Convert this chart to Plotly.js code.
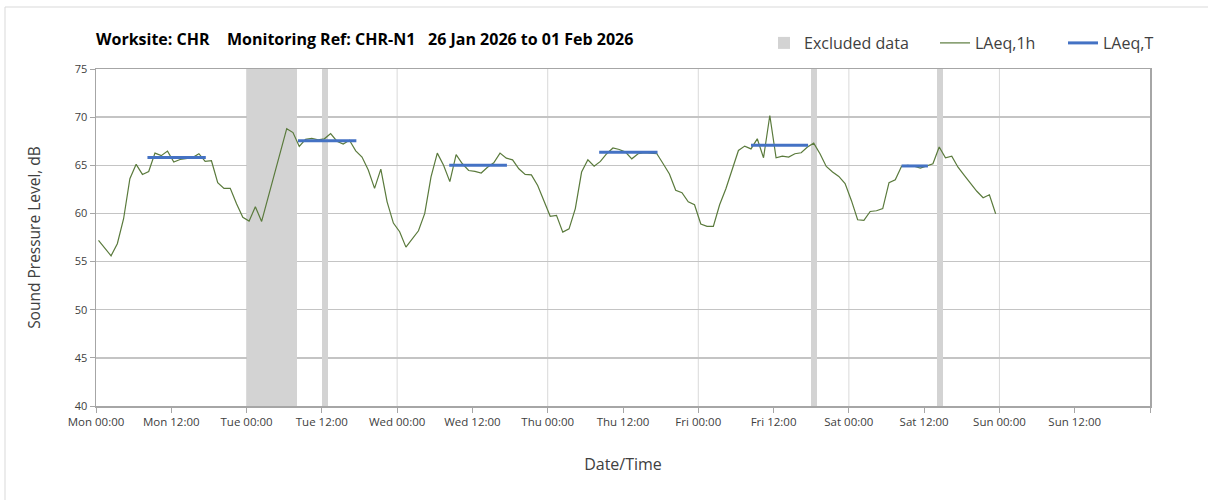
<!DOCTYPE html>
<html><head><meta charset="utf-8">
<script src="https://cdn.plot.ly/plotly-3.0.1.min.js"></script>
<style>html,body{margin:0;padding:0;background:#fff}#chart{width:1208px;height:500px}</style>
</head><body><div id="chart"></div>
<script>
// Hourly LAeq,1h values (dB), first value = Mon 00:00 hour
const laeq1h = [
  57.2, 56.4, 55.6, 56.85, 59.45, 63.6, 65.1, 64.05, 64.35, 66.26, 66.0, 66.47,
  65.33, 65.6, 65.7, 65.8, 66.2, 65.4, 65.47, 63.2, 62.6, 62.6, 61.0, 59.6,
  59.2, 60.7, 59.17, 61.6, 64.2, 66.4, 68.8, 68.4, 66.95, 67.7, 67.8, 67.65,
  67.75, 68.3, 67.5, 67.2, 67.6, 66.5, 65.85, 64.5, 62.6, 64.6, 61.2, 59.0,
  58.1, 56.5, 57.4, 58.2, 60.0, 63.8, 66.26, 65.0, 63.3, 66.1, 65.16, 64.46,
  64.36, 64.2, 64.8, 65.26, 66.26, 65.74, 65.57, 64.64, 64.05, 64.0, 62.9, 61.35,
  59.7, 59.8, 58.06, 58.4, 60.5, 64.3, 65.57, 64.9, 65.4, 66.2, 66.8, 66.64,
  66.37, 65.67, 66.2, 66.3, 66.26, 66.2, 65.16, 64.1, 62.4, 62.15, 61.2, 60.9,
  58.9, 58.65, 58.65, 60.9, 62.56, 64.64, 66.54, 66.99, 66.7, 67.75, 65.78, 70.17,
  65.78, 65.95, 65.85, 66.2, 66.3, 66.9, 67.3, 66.2, 64.88, 64.3, 63.84, 63.1,
  61.35, 59.34, 59.27, 60.2, 60.28, 60.5, 63.2, 63.5, 64.9, 65.0, 64.9, 64.7,
  64.9, 65.16, 66.9, 65.78, 65.95, 64.8, 63.95, 63.1, 62.3, 61.63, 61.94, 59.97
];
// LAeq,T periods (hours from Mon 00:00) and values
const periodStart = [8.2, 32.2, 56.3, 80.2, 104.4, 128.4];
const periodEnd   = [17.5, 41.5, 65.5, 89.5, 113.5, 132.6];
const laeqT       = [65.8, 67.55, 65.0, 66.35, 67.07, 64.93];
// Excluded data periods (hours from Mon 00:00)
const excludedStart = [24, 36, 114, 134];
const excludedEnd   = [32, 37, 115, 135];
// Axis ticks
const tickHours  = [0, 12, 24, 36, 48, 60, 72, 84, 96, 108, 120, 132, 144, 156, 168];
const tickLabels = ['Mon 00:00','Mon 12:00','Tue 00:00','Tue 12:00','Wed 00:00','Wed 12:00',
                    'Thu 00:00','Thu 12:00','Fri 00:00','Fri 12:00','Sat 00:00','Sat 12:00',
                    'Sun 00:00','Sun 12:00',''];
const dayHours = [24, 48, 72, 96, 120, 144];
const yTicks = [40, 45, 50, 55, 60, 65, 70, 75];

const FONT = 'Open Sans, Lato, sans-serif';
const hourOffset = 0.4;

const lineX = laeq1h.map((v, i) => i + hourOffset);

const tX = [], tY = [];
periodStart.forEach((s, i) => { tX.push(s, periodEnd[i], null); tY.push(laeqT[i], laeqT[i], null); });

const traces = [
  {
    type: 'bar', name: 'Excluded data', legend: 'legend',
    x: excludedStart.map((s, i) => (s + excludedEnd[i]) / 2),
    width: excludedStart.map((s, i) => excludedEnd[i] - s),
    y: excludedStart.map(() => 35), base: 40,
    marker: {color: '#d3d3d3', line: {width: 0}},
    hoverinfo: 'skip'
  },
  {
    type: 'scatter', mode: 'lines', name: 'LAeq,1h', legend: 'legend2',
    x: lineX, y: laeq1h,
    line: {color: '#5a7a3c', width: 1.2}
  },
  {
    type: 'scatter', mode: 'lines', name: 'LAeq,T', legend: 'legend3',
    x: tX, y: tY, connectgaps: false,
    line: {color: '#4472c4', width: 3}
  }
];

const L = 96, R = 1150, T = 69, B = 406;
const px = p => (p - L) / (R - L);
const py = p => (B - p) / (B - T);

const shapes = dayHours.map(h => ({
  type: 'line', xref: 'x', yref: 'paper', x0: h, x1: h, y0: 0, y1: 1,
  line: {color: '#d9d9d9', width: 1}, layer: 'below'
}));
shapes.push({
  type: 'rect', xref: 'paper', yref: 'paper',
  x0: px(5), x1: px(1230), y0: py(540), y1: py(7),
  line: {color: '#d9d9d9', width: 1}, fillcolor: 'rgba(0,0,0,0)', layer: 'below'
});

const titleFont = {family: FONT, size: 16, color: '#000000'};
const annotations = [
  {text: '<b>Worksite: CHR</b>', x: px(94), y: py(39)},
  {text: '<b>Monitoring Ref: CHR-N1</b>', x: px(225), y: py(39)},
  {text: '<b>26 Jan 2026 to 01 Feb 2026</b>', x: px(426), y: py(39)}
].map(a => Object.assign(a, {xref: 'paper', yref: 'paper', xanchor: 'left', yanchor: 'middle',
  showarrow: false, font: titleFont}));

const legendBase = {orientation: 'h', xanchor: 'left', y: py(43), yanchor: 'middle',
  font: {family: FONT, size: 16, color: '#404040'}, bgcolor: 'rgba(0,0,0,0)', borderwidth: 0};

const layout = {
  width: 1208, height: 500,
  margin: {l: L, r: 1208 - R, t: T, b: 500 - B},
  paper_bgcolor: '#ffffff', plot_bgcolor: '#ffffff',
  showlegend: true,
  legend:  Object.assign({}, legendBase, {x: px(764)}),
  legend2: Object.assign({}, legendBase, {x: px(935)}),
  legend3: Object.assign({}, legendBase, {x: px(1063)}),
  xaxis: {
    range: [0, 168], tickmode: 'array', tickvals: tickHours, ticktext: tickLabels,
    showgrid: false, zeroline: false, showline: true, linecolor: '#a6a6a6', linewidth: 1.5, mirror: true,
    ticks: 'outside', ticklen: 5, tickcolor: '#a6a6a6',
    tickfont: {family: FONT, size: 11.5, color: '#404040'},
    title: {text: 'Date/Time', font: {family: FONT, size: 16, color: '#404040'}, standoff: 30}
  },
  yaxis: {
    range: [40, 75], tickmode: 'array', tickvals: yTicks,
    showgrid: true, gridcolor: '#c4c4c4', gridwidth: 1.3, zeroline: false,
    showline: true, linecolor: '#a6a6a6', linewidth: 1.5, mirror: true,
    ticks: 'outside', ticklen: 5, tickcolor: '#a6a6a6',
    tickfont: {family: FONT, size: 11, color: '#404040'},
    title: {text: 'Sound Pressure Level, dB', font: {family: FONT, size: 15.5, color: '#404040'}, standoff: 30}
  },
  bargap: 0,
  shapes: shapes,
  annotations: annotations
};

Plotly.newPlot('chart', traces, layout, {displayModeBar: false, staticPlot: true});
</script>
</body></html>
